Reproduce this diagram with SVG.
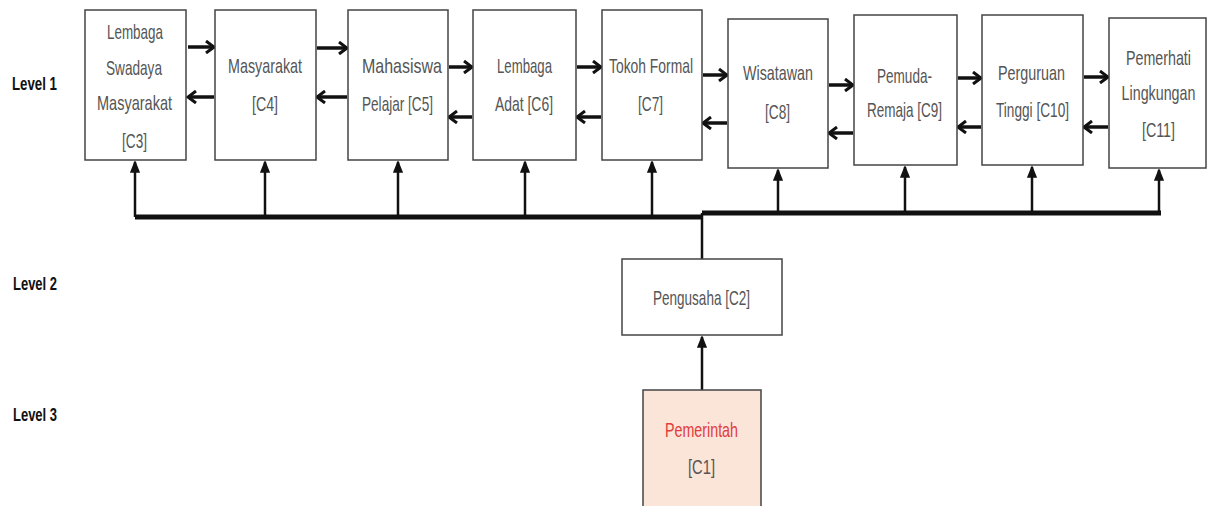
<svg xmlns="http://www.w3.org/2000/svg" width="1207" height="506" viewBox="0 0 1207 506">
<style>
.box{fill:#fff;stroke:#444;stroke-width:1.5}
.t{font-family:"Liberation Sans",Arial,sans-serif;font-size:21px;fill:#555;text-anchor:start}
.c{text-anchor:middle}
.lv{font-family:"Liberation Sans",Arial,sans-serif;font-size:18px;font-weight:bold;fill:#111}
.h{stroke:#111;stroke-width:3.5;fill:none}
.v{stroke:#111;stroke-width:2.5;fill:none}
.bus{stroke:#111;stroke-width:5;fill:none}
</style>
<defs>
<marker id="chev" markerUnits="userSpaceOnUse" viewBox="0 0 12 14" markerWidth="12" markerHeight="14" refX="10" refY="7" orient="auto">
<path d="M2,1 L10,7 L2,13" fill="none" stroke="#111" stroke-width="3"/>
</marker>
<marker id="vchev" markerUnits="userSpaceOnUse" viewBox="0 0 12 10" markerWidth="12" markerHeight="10" refX="11" refY="5" orient="auto">
<path d="M1,1 L11,5 L1,9 Z" fill="#111" stroke="#111" stroke-width="1.5"/>
</marker>
</defs>
<rect width="1207" height="506" fill="#fff"/>
<g id="levels">
<text class="lv" x="12" y="90" textLength="45" lengthAdjust="spacingAndGlyphs">Level 1</text>
<text class="lv" x="13" y="290" textLength="44" lengthAdjust="spacingAndGlyphs">Level 2</text>
<text class="lv" x="13" y="421" textLength="44" lengthAdjust="spacingAndGlyphs">Level 3</text>
</g>
<g id="connectors">
<path class="bus" d="M135,217 H703"/>
<path class="bus" d="M702,213 H1161"/>
<path class="v" d="M702,213 V259"/>
<g marker-end="url(#vchev)">
<path class="v" d="M135,217 V162"/>
<path class="v" d="M265,217 V162"/>
<path class="v" d="M398,217 V162"/>
<path class="v" d="M525,217 V162"/>
<path class="v" d="M652,217 V162"/>
<path class="v" d="M778,213 V170"/>
<path class="v" d="M905,213 V167"/>
<path class="v" d="M1032,213 V167"/>
<path class="v" d="M1159,213 V170"/>
<path class="v" d="M702,390 V337"/>
</g>
<g marker-end="url(#chev)">
<path class="h" d="M188,47 H214"/>
<path class="h" d="M214,97 H188"/>
<path class="h" d="M317,48 H347"/>
<path class="h" d="M347,97 H317"/>
<path class="h" d="M449,67 H472"/>
<path class="h" d="M472,117 H449"/>
<path class="h" d="M577,67 H601"/>
<path class="h" d="M601,117 H577"/>
<path class="h" d="M703,75 H727"/>
<path class="h" d="M727,123 H703"/>
<path class="h" d="M829,85 H853"/>
<path class="h" d="M853,133 H829"/>
<path class="h" d="M958,78 H981"/>
<path class="h" d="M981,127 H958"/>
<path class="h" d="M1084,77 H1108"/>
<path class="h" d="M1108,127 H1084"/>
</g>
</g>
<g id="C3">
<rect class="box" x="85" y="10" width="101" height="150"/>
<text class="t" x="107" y="39" textLength="56" lengthAdjust="spacingAndGlyphs">Lembaga</text>
<text class="t" x="106" y="75" textLength="56" lengthAdjust="spacingAndGlyphs">Swadaya</text>
<text class="t" x="97" y="110" textLength="75" lengthAdjust="spacingAndGlyphs">Masyarakat</text>
<text class="t" x="122" y="148" textLength="25" lengthAdjust="spacingAndGlyphs">[C3]</text>
</g>
<g id="C4">
<rect class="box" x="215" y="10" width="101" height="150"/>
<text class="t" x="228" y="73" textLength="74" lengthAdjust="spacingAndGlyphs">Masyarakat</text>
<text class="t" x="252" y="111" textLength="26" lengthAdjust="spacingAndGlyphs">[C4]</text>
</g>
<g id="C5">
<rect class="box" x="348" y="10" width="100" height="150"/>
<text class="t" x="362" y="73" textLength="80" lengthAdjust="spacingAndGlyphs">Mahasiswa</text>
<text class="t" x="362" y="111" textLength="71" lengthAdjust="spacingAndGlyphs">Pelajar [C5]</text>
</g>
<g id="C6">
<rect class="box" x="473" y="10" width="103" height="150"/>
<text class="t" x="497" y="73" textLength="55" lengthAdjust="spacingAndGlyphs">Lembaga</text>
<text class="t" x="495" y="111" textLength="58" lengthAdjust="spacingAndGlyphs">Adat [C6]</text>
</g>
<g id="C7">
<rect class="box" x="602" y="10" width="100" height="150"/>
<text class="t" x="609" y="73" textLength="84" lengthAdjust="spacingAndGlyphs">Tokoh Formal</text>
<text class="t" x="638" y="111" textLength="25" lengthAdjust="spacingAndGlyphs">[C7]</text>
</g>
<g id="C8">
<rect class="box" x="728" y="19" width="100" height="149"/>
<text class="t" x="743" y="80" textLength="70" lengthAdjust="spacingAndGlyphs">Wisatawan</text>
<text class="t" x="765" y="119" textLength="25" lengthAdjust="spacingAndGlyphs">[C8]</text>
</g>
<g id="C9">
<rect class="box" x="854" y="15" width="103" height="150"/>
<text class="t" x="877" y="83" textLength="55" lengthAdjust="spacingAndGlyphs">Pemuda-</text>
<text class="t" x="867" y="117" textLength="75" lengthAdjust="spacingAndGlyphs">Remaja [C9]</text>
</g>
<g id="C10">
<rect class="box" x="982" y="15" width="101" height="150"/>
<text class="t" x="998" y="80" textLength="67" lengthAdjust="spacingAndGlyphs">Perguruan</text>
<text class="t" x="996" y="117" textLength="73" lengthAdjust="spacingAndGlyphs">Tinggi [C10]</text>
</g>
<g id="C11">
<rect class="box" x="1109" y="18" width="97" height="150"/>
<text class="t c" transform="translate(1158.5,65) scale(0.68,1)">Pemerhati</text>
<text class="t c" transform="translate(1158.5,100) scale(0.68,1)">Lingkungan</text>
<text class="t c" transform="translate(1158.5,137) scale(0.68,1)">[C11]</text>
</g>
<g id="C2">
<rect class="box" x="622" y="259" width="160" height="76"/>
<text class="t" x="653" y="305" textLength="97" lengthAdjust="spacingAndGlyphs">Pengusaha [C2]</text>
</g>
<g id="C1">
<rect x="643" y="390" width="118" height="130" fill="#fbe4d8" stroke="#444" stroke-width="1.5"/>
<text class="t" x="665" y="437" textLength="73" lengthAdjust="spacingAndGlyphs" style="fill:#e03c3c">Pemerintah</text>
<text class="t" x="688" y="474" textLength="27" lengthAdjust="spacingAndGlyphs">[C1]</text>
</g>
</svg>
